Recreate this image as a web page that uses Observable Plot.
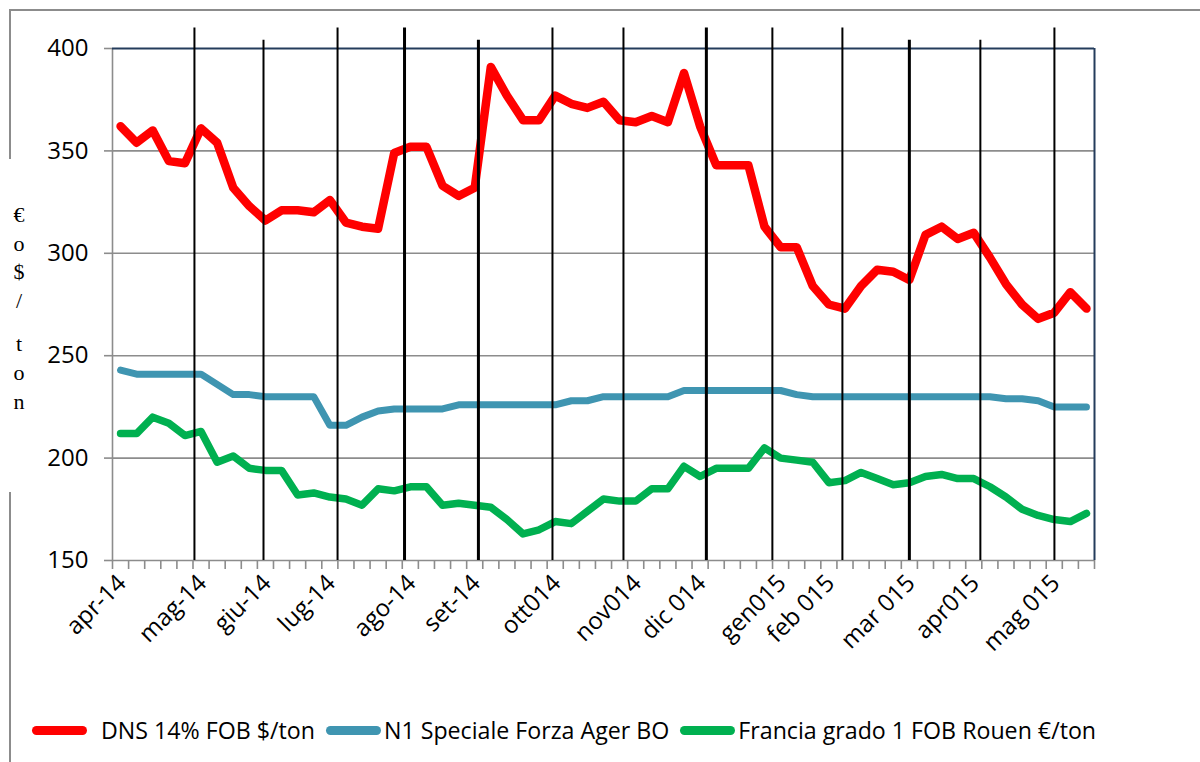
<!DOCTYPE html>
<html>
<head>
<meta charset="utf-8">
<script src="https://cdn.jsdelivr.net/npm/d3@7"></script>
<script src="https://cdn.jsdelivr.net/npm/@observablehq/plot@0.6"></script>
<style>
  html, body { margin: 0; padding: 0; background: #fff; }
  #wrap { position: relative; width: 1200px; height: 762px; overflow: hidden; background: #fff; }
  #chart { position: absolute; left: 0; top: 0; }
  .frame { position: absolute; background: #8c8c8c; }
  #ytitle { position: absolute; left: 6px; top: 201px; width: 26px; font-family: "Liberation Serif", serif; font-size: 22px; line-height: 28.6px; text-align: center; color: #000; }
  #legend { position: absolute; left: 32px; top: 715px; height: 30px; display: flex; align-items: center; font-family: "Open Sans", sans-serif; font-size: 23.2px; color: #000; white-space: nowrap; }
  .item { display: flex; align-items: center; }
  .sw { width: 55px; height: 9px; border-radius: 4.5px; margin-right: 3px; }
</style>
</head>
<body>
<div id="wrap">
  <div class="frame" style="left:9px; top:9px; width:1191px; height:1.5px;"></div>
  <div class="frame" style="left:9px; top:9px; width:1.5px; height:150px;"></div>
  <div class="frame" style="left:9px; top:492px; width:1.5px; height:270px;"></div>
  <div id="chart"></div>
  <div id="ytitle"></div>
  <div id="legend"></div>
</div>
<script>
// ---- data ----
const seriesNames = ["DNS 14% FOB $/ton", "N1 Speciale Forza Ager BO", "Francia grado 1 FOB Rouen €/ton"];
const seriesColors = ["#ff0000", "#3f95b1", "#00b050"];

const dns = [362,354,360,345,344,361,354,332,323,316,
             321,321,320,326,315,313,312,349,352,352,
             333,328,332,391,377,365,365,377,373,371,
             374,365,364,367,364,388,362,343,343,343,
             313,303,303,284,275,273,284,292,291,287,
             309,313,307,310,298,285,275,268,271,281,273];

const n1 = [243,241,241,241,241,241,236,231,231,230,
            230,230,230,216,216,220,223,224,224,224,
            224,226,226,226,226,226,226,226,228,228,
            230,230,230,230,230,233,233,233,233,233,
            233,233,231,230,230,230,230,230,230,230,
            230,230,230,230,230,229,229,228,225,225,225];

const francia = [212,212,220,217,211,213,198,201,195,194,
                 194,182,183,181,180,177,185,184,186,186,
                 177,178,177,176,170,163,165,169,168,174,
                 180,179,179,185,185,196,191,195,195,195,
                 205,200,199,198,188,189,193,190,187,188,
                 191,192,190,190,186,181,175,172,170,169,173];

// category labels (week index -> label)
const labelIdx = [0,5,9,13,18,22,27,32,36,41,44,49,53,58];
const labelText = ["apr-14","mag-14","giu-14","lug-14","ago-14","set-14","ott014","nov014","dic 014","gen015","feb 015","mar 015","apr015","mag 015"];

// hand-drawn month separator lines (week index position)
const monthLinePos = [4.59, 8.88, 13.48, 17.64, 22.23, 26.83, 31.24, 36.39, 40.49, 44.84, 49.00, 53.41, 58.01];
const monthLineBold = [false,false,false,true,true,false,false,true,false,false,true,false,false];
const monthLineLong = [true,false,true,true,false,true,true,true,true,true,false,false,true];

const yTicks = [150,200,250,300,350,400];
const yTitleChars = ["€","o","$","/","t","o","n"];

// ---- build tables ----
const nWeeks = dns.length;
const toRows = arr => arr.map((v, i) => ({i, v}));
const boundaries = d3.range(nWeeks + 1).map(k => k - 0.5);
const labels = labelIdx.map((idx, k) => ({idx, label: labelText[k]}));
const monthLines = monthLinePos.map((pos, k) => ({pos, bold: monthLineBold[k], long: monthLineLong[k]}));

const gray = "#8c8c8c";
const navy = "#243c5c";

const chart = Plot.plot({
  width: 1200,
  height: 690,
  marginLeft: 112,
  marginRight: 106,
  marginTop: 48,
  marginBottom: 130,
  x: {domain: [-0.5, nWeeks - 0.5], label: null},
  y: {domain: [150, 400], label: null},
  style: {fontFamily: "Open Sans, sans-serif", fontSize: "24px", color: "#000", background: "transparent", overflow: "visible"},
  marks: [
    Plot.ruleY(yTicks.filter(t => t > 150 && t < 400), {stroke: gray, strokeWidth: 1.6}),
    Plot.ruleY([150], {stroke: gray, strokeWidth: 1.6}),
    Plot.ruleX([-0.5], {stroke: gray, strokeWidth: 1.6}),
    Plot.ruleY([400], {stroke: navy, strokeWidth: 2}),
    Plot.ruleX([nWeeks - 0.5], {stroke: navy, strokeWidth: 2}),
    Plot.axisY({ticks: yTicks, tickSize: 8, tickPadding: 16, stroke: gray, fill: "#000", fontSize: 24, strokeWidth: 1.6, style: {letterSpacing: "1.5px"}}),
    Plot.axisX({ticks: boundaries, tickSize: 9, tickFormat: () => "", stroke: gray, strokeWidth: 1.6}),
    Plot.line(toRows(dns), {x: "i", y: "v", stroke: seriesColors[0], strokeWidth: 8.5, strokeLinejoin: "round", strokeLinecap: "round"}),
    Plot.line(toRows(n1), {x: "i", y: "v", stroke: seriesColors[1], strokeWidth: 7, strokeLinejoin: "round", strokeLinecap: "round"}),
    Plot.line(toRows(francia), {x: "i", y: "v", stroke: seriesColors[2], strokeWidth: 7.5, strokeLinejoin: "round", strokeLinecap: "round"}),
    Plot.ruleX(monthLines, {x: "pos", y1: 150, y2: d => d.long ? 410 : 404, stroke: "#000", strokeWidth: d => d.bold ? 3 : 2, clip: false}),
    Plot.text(labels, {x: "idx", frameAnchor: "bottom", text: "label", rotate: -45, textAnchor: "end", dx: 7, dy: 24, fontSize: 24, fill: "#000"})
  ]
});
document.getElementById("chart").appendChild(chart);

// y title (stacked characters)
const yt = document.getElementById("ytitle");
yTitleChars.forEach((c, k) => {
  const d = document.createElement("div");
  d.textContent = c;
  if (k === 4) d.style.marginTop = "15px";
  yt.appendChild(d);
});

// legend
const lg = document.getElementById("legend");
seriesNames.forEach((name, k) => {
  const it = document.createElement("div");
  it.className = "item";
  it.style.marginRight = k < 2 ? "11px" : "0";
  const sw = document.createElement("div");
  sw.className = "sw";
  sw.style.background = seriesColors[k];
  if (k === 0) sw.style.marginRight = "14px";
  const tx = document.createElement("span");
  tx.textContent = name;
  it.appendChild(sw);
  it.appendChild(tx);
  lg.appendChild(it);
});
</script>
</body>
</html>
